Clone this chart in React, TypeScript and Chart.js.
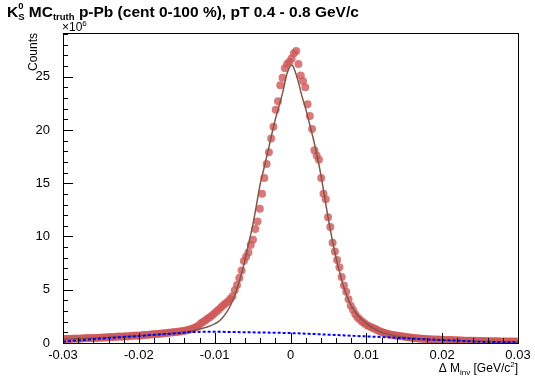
import React, { useEffect, useRef } from 'react';
import { Chart, registerables } from 'chart.js';
Chart.register(...registerables);

// Histogram: 200 bins from -0.03 to 0.03 (counts in units of 10^6)
const BIN_LO = -0.03;
const BIN_W = 0.0003;
const countsM = [
  0.38, 0.40, 0.37, 0.41, 0.40, 0.42, 0.41, 0.43, 0.42, 0.45,
  0.46, 0.44, 0.47, 0.48, 0.47, 0.50, 0.49, 0.52, 0.51, 0.54,
  0.56, 0.55, 0.57, 0.58, 0.60, 0.59, 0.62, 0.63, 0.62, 0.65,
  0.67, 0.68, 0.70, 0.69, 0.72, 0.74, 0.75, 0.77, 0.79, 0.81,
  0.84, 0.85, 0.87, 0.90, 0.91, 0.93, 0.96, 0.98, 1.00, 1.03,
  1.06, 1.09, 1.12, 1.15, 1.20, 1.26, 1.32, 1.40, 1.50, 1.62,
  1.82, 1.98, 2.12, 2.28, 2.42, 2.58, 2.76, 2.95, 3.15, 3.35,
  3.55, 3.72, 3.90, 4.12, 4.40, 4.95, 5.45, 6.10, 6.80, 7.70,
  8.10, 8.50, 9.20, 9.70, 10.7, 11.4, 12.6, 14.0, 15.5, 16.8,
  17.9, 19.2, 20.3, 21.9, 22.7, 24.2, 24.9, 25.8, 26.2, 26.4,
  26.7, 27.2, 27.4, 26.2, 25.1, 24.6, 24.0, 22.4, 21.3, 20.1,
  18.1, 17.6, 17.2, 15.5, 14.0, 13.5, 11.8, 10.9, 9.4, 8.6,
  7.8, 7.1, 6.2, 5.4, 4.8, 4.1, 3.5, 3.1, 2.7, 2.4,
  2.2, 2.0, 1.85, 1.7, 1.58, 1.47, 1.38, 1.28, 1.18, 1.08,
  1.00, 0.93, 0.87, 0.82, 0.77, 0.73, 0.70, 0.66, 0.63, 0.60,
  0.58, 0.55, 0.52, 0.49, 0.47, 0.45, 0.43, 0.41, 0.40, 0.38,
  0.36, 0.35, 0.34, 0.33, 0.32, 0.31, 0.30, 0.29, 0.28, 0.28,
  0.27, 0.26, 0.25, 0.25, 0.24, 0.23, 0.22, 0.22, 0.21, 0.21,
  0.20, 0.20, 0.19, 0.19, 0.18, 0.18, 0.17, 0.17, 0.17, 0.16,
  0.16, 0.16, 0.15, 0.15, 0.15, 0.14, 0.14, 0.14, 0.13, 0.13,
];

// Fit curve (signal + background)
const fitX = [-0.03, -0.025, -0.02, -0.016, -0.014, -0.012, -0.011, -0.01, -0.0095, -0.009, -0.0085, -0.008, -0.0075, -0.007, -0.0065, -0.006, -0.0055, -0.005, -0.0045, -0.004, -0.0035, -0.003, -0.0025, -0.002, -0.0015, -0.001, -0.0005, 0.0002, 0.0005, 0.001, 0.0015, 0.002, 0.0025, 0.003, 0.0035, 0.004, 0.0045, 0.005, 0.0055, 0.006, 0.0065, 0.007, 0.0075, 0.008, 0.009, 0.01, 0.011, 0.012, 0.013, 0.0145, 0.016, 0.018, 0.02, 0.025, 0.03];
const fitY = [0.36, 0.5, 0.68, 0.88, 1.02, 1.3, 1.5, 1.8, 2.0, 2.35, 2.8, 3.4, 4.2, 5.2, 6.4, 7.8, 9.4, 11.0, 12.9, 14.9, 16.4, 17.9, 19.5, 21.0, 22.3, 23.6, 25.2, 26.1, 25.7, 24.6, 23.2, 22.0, 20.6, 19.2, 17.6, 15.8, 13.7, 11.6, 9.7, 8.0, 6.6, 5.3, 4.3, 3.5, 2.5, 1.85, 1.35, 1.02, 0.8, 0.58, 0.44, 0.33, 0.26, 0.16, 0.11];

// Background curve
const bgX = [-0.03, -0.025, -0.02, -0.015, -0.0125, -0.01, -0.005, 0, 0.005, 0.01, 0.0125, 0.015, 0.0175, 0.02, 0.0225, 0.025, 0.0275, 0.03];
const bgY = [0.12, 0.42, 0.66, 0.92, 1.04, 1.05, 1.0, 0.93, 0.78, 0.62, 0.55, 0.45, 0.36, 0.28, 0.2, 0.12, 0.08, 0.07];

const xTicks = [-0.03, -0.02, -0.01, 0, 0.01, 0.02, 0.03];
const yTicks = [0, 5, 10, 15, 20, 25];

const FONT = "'Liberation Sans', Arial, Helvetica, sans-serif";

type Part = { t: string; size: number; bold?: boolean; dy?: number; noAdvance?: boolean };

function partsWidth(ctx: CanvasRenderingContext2D, parts: Part[]) {
  let w = 0;
  for (const p of parts) {
    ctx.font = `${p.bold ? 'bold ' : ''}${p.size}px ${FONT}`;
    if (!p.noAdvance) w += ctx.measureText(p.t).width;
  }
  return w;
}

function drawRich(ctx: CanvasRenderingContext2D, x: number, y: number, parts: Part[]) {
  let cx = x;
  ctx.textAlign = 'left';
  ctx.textBaseline = 'alphabetic';
  for (const p of parts) {
    ctx.font = `${p.bold ? 'bold ' : ''}${p.size}px ${FONT}`;
    ctx.fillText(p.t, cx, y + (p.dy || 0));
    if (!p.noAdvance) cx += ctx.measureText(p.t).width;
  }
}

const rootStyle = {
  id: 'rootStyle',
  afterDatasetsDraw(chart: any) {
    const { ctx, chartArea: a, scales } = chart;
    const x = scales.x;
    const y = scales.y;
    ctx.save();
    ctx.strokeStyle = '#000';
    ctx.lineWidth = 1;
    ctx.strokeRect(Math.round(a.left) + 0.5, Math.round(a.top) + 0.5, Math.round(a.right - a.left), Math.round(a.bottom - a.top));
    ctx.beginPath();
    for (let v = 0; v <= 29; v++) {
      const py = Math.round(y.getPixelForValue(v)) + 0.5;
      const len = v % 5 === 0 ? 10 : 5;
      ctx.moveTo(a.left, py);
      ctx.lineTo(a.left + len, py);
    }
    for (let k = -15; k <= 15; k++) {
      const px = Math.round(x.getPixelForValue(k * 0.002)) + 0.5;
      const len = k % 5 === 0 ? 10 : 5;
      ctx.moveTo(px, a.bottom);
      ctx.lineTo(px, a.bottom - len);
    }
    ctx.stroke();

    ctx.fillStyle = '#000';
    // Title
    drawRich(ctx, 7, 17, [
      { t: 'K', size: 15.5, bold: true },
      { t: '0', size: 9.5, bold: true, dy: -8, noAdvance: true },
      { t: 'S', size: 9.5, bold: true, dy: 3 },
      { t: ' MC', size: 15.5, bold: true },
      { t: 'truth', size: 9.5, bold: true, dy: 3 },
      { t: ' p-Pb (cent 0-100 %), pT 0.4 - 0.8 GeV/c', size: 15.5, bold: true },
    ]);
    // exponent
    drawRich(ctx, a.left - 1, 31, [
      { t: '\u00d710', size: 12 },
      { t: '6', size: 8, dy: -5 },
    ]);
    // y title
    ctx.save();
    ctx.translate(37, a.top);
    ctx.rotate(-Math.PI / 2);
    ctx.font = `12px ${FONT}`;
    ctx.textAlign = 'right';
    ctx.textBaseline = 'alphabetic';
    ctx.fillText('Counts', 0, 0);
    ctx.restore();
    // x title
    const xParts: Part[] = [
      { t: '\u0394 M', size: 12 },
      { t: 'inv', size: 8, dy: 3 },
      { t: ' [GeV/c', size: 12 },
      { t: '2', size: 8, dy: -5 },
      { t: ']', size: 12 },
    ];
    const w = partsWidth(ctx, xParts);
    drawRich(ctx, a.right - w, 372, xParts);
    ctx.restore();
  },
};

export default function App() {
  const ref = useRef<HTMLCanvasElement>(null);
  useEffect(() => {
    const canvas = ref.current!;
    const points = countsM.map((c, i) => ({ x: BIN_LO + BIN_W * (i + 0.5), y: c }));
    const chart = new Chart(canvas, {
      type: 'scatter',
      data: {
        datasets: [
          {
            type: 'line',
            data: bgX.map((v, i) => ({ x: v, y: bgY[i] })),
            borderColor: '#0000ff',
            borderWidth: 2,
            borderDash: [3, 2],
            pointRadius: 0,
            showLine: true,
            fill: false,
            cubicInterpolationMode: 'monotone',
          } as any,
          {
            type: 'line',
            data: fitX.map((v, i) => ({ x: v, y: fitY[i] })),
            borderColor: '#80584a',
            borderWidth: 1.5,
            pointRadius: 0,
            showLine: true,
            fill: false,
            cubicInterpolationMode: 'monotone',
          } as any,
          {
            type: 'scatter',
            data: points,
            pointRadius: 4,
            pointBackgroundColor: 'rgba(208,88,88,0.8)',
            pointBorderWidth: 0,
            backgroundColor: 'rgba(208,88,88,0.8)',
            borderWidth: 0,
          } as any,
        ],
      },
      options: {
        responsive: false,
        animation: false,
        devicePixelRatio: 1,
        layout: { padding: { top: 33, right: 17, left: 0, bottom: 0 } },
        plugins: {
          legend: { display: false },
          tooltip: { enabled: false },
          title: { display: false },
        },
        scales: {
          x: {
            type: 'linear',
            min: -0.03,
            max: 0.03,
            grid: { display: false },
            border: { display: false },
            afterBuildTicks: (s: any) => {
              s.ticks = xTicks.map((v) => ({ value: v }));
            },
            afterFit: (s: any) => {
              s.height = 38;
            },
            ticks: {
              font: { family: FONT, size: 13 },
              color: '#000',
              padding: -3,
              maxRotation: 0,
              autoSkip: false,
              callback: (v: any) => (Math.abs(v) < 1e-9 ? '0' : Number(v).toFixed(2)),
            },
          },
          y: {
            type: 'linear',
            min: 0,
            max: 29.1,
            grid: { display: false },
            border: { display: false },
            afterBuildTicks: (s: any) => {
              s.ticks = yTicks.map((v) => ({ value: v }));
            },
            afterFit: (s: any) => {
              s.width = 63;
            },
            ticks: {
              font: { family: FONT, size: 13 },
              color: '#000',
              padding: 5,
              autoSkip: false,
              callback: (v: any) => String(v),
            },
          },
        },
      } as any,
      plugins: [rootStyle as any],
    });
    return () => chart.destroy();
  }, []);
  return (
    <div style={{ position: 'fixed', left: 0, top: 0, width: 535, height: 381, background: '#fff' }}>
      <canvas ref={ref} width={535} height={381} style={{ display: 'block', width: 535, height: 381 }} />
    </div>
  );
}
